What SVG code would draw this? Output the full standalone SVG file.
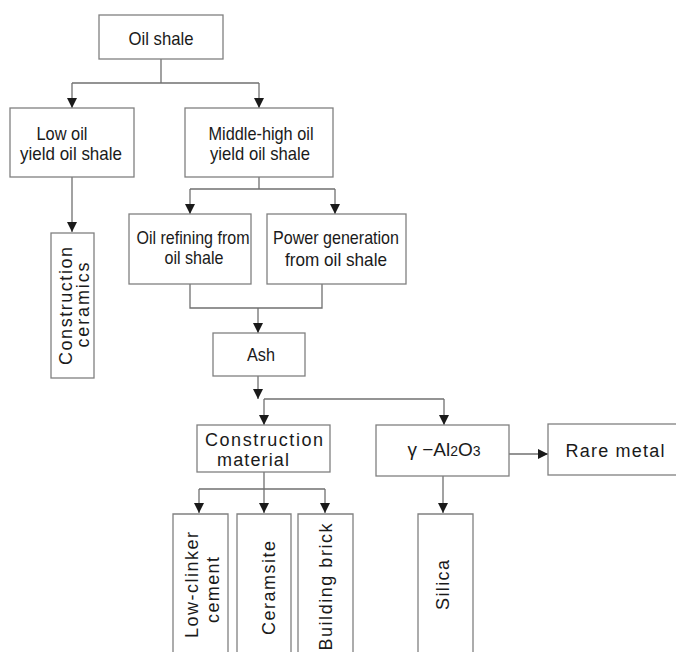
<svg xmlns="http://www.w3.org/2000/svg" width="676" height="652" viewBox="0 0 676 652">
<defs>
<marker id="ah" viewBox="0 0 10 10" refX="10" refY="5" markerWidth="10" markerHeight="10" markerUnits="userSpaceOnUse" orient="auto">
<path d="M0,0 L10,5 L0,10 Z" fill="#1a1a1a"/>
</marker>
<style>
.box{fill:#fff;stroke:#808080;stroke-width:1.3}
.ln{fill:none;stroke:#707070;stroke-width:1.3}
.ar{fill:none;stroke:#707070;stroke-width:1.3;marker-end:url(#ah)}
text{font-family:"Liberation Sans",Arial,sans-serif;font-size:19px;fill:#1a1a1a;text-anchor:middle}
.n{font-size:19px}
.w{font-size:18px}
</style>
</defs>
<rect width="676" height="652" fill="#fff"/>
<g id="connectors">
<path class="ln" d="M161,59 V83 M72,83 H259"/>
<path class="ar" d="M72,83 V108"/>
<path class="ar" d="M259,83 V108"/>
<path class="ar" d="M72,177 V232"/>
<path class="ln" d="M259,177 V189 M190,189 H335"/>
<path class="ar" d="M190,189 V214"/>
<path class="ar" d="M335,189 V214"/>
<path class="ln" d="M190,284 V308 H322 V284"/>
<path class="ar" d="M258,308 V333"/>
<path class="ar" d="M258,376 V399"/>
<path class="ln" d="M264,399 H444"/>
<path class="ar" d="M264,399 V425"/>
<path class="ar" d="M444,399 V425"/>
<path class="ln" d="M264,472 V489 M199,489 H325"/>
<path class="ar" d="M199,489 V513"/>
<path class="ar" d="M264,489 V513"/>
<path class="ar" d="M325,489 V513"/>
<path class="ar" d="M443,476 V513"/>
<path class="ar" d="M509,454 H548"/>
</g>
<g id="oil-shale"><rect class="box" x="99" y="15" width="124" height="44"/><text class="n" x="161" y="45" textLength="65" lengthAdjust="spacingAndGlyphs">Oil shale</text></g>
<g id="low-oil"><rect class="box" x="10" y="108" width="124" height="69"/><text class="n" x="62" y="140" textLength="51" lengthAdjust="spacingAndGlyphs">Low oil</text><text class="n" x="71" y="160" textLength="102" lengthAdjust="spacingAndGlyphs">yield oil shale</text></g>
<g id="middle-high"><rect class="box" x="185" y="108" width="148" height="69"/><text class="n" x="261" y="140" textLength="105" lengthAdjust="spacingAndGlyphs">Middle-high oil</text><text class="n" x="260" y="160" textLength="100" lengthAdjust="spacingAndGlyphs">yield oil shale</text></g>
<g id="construction-ceramics"><rect class="box" x="51" y="233" width="43" height="145"/><text class="w" transform="translate(72,306) rotate(-90)" textLength="118">Construction</text><text class="w" transform="translate(89,305) rotate(-90)" textLength="85">ceramics</text></g>
<g id="oil-refining"><rect class="box" x="129" y="214" width="122" height="70"/><text class="n" x="193" y="244" textLength="113" lengthAdjust="spacingAndGlyphs">Oil refining from</text><text class="n" x="194" y="264" textLength="59" lengthAdjust="spacingAndGlyphs">oil shale</text></g>
<g id="power-generation"><rect class="box" x="267" y="214" width="139" height="70"/><text class="n" x="336" y="244" textLength="126" lengthAdjust="spacingAndGlyphs">Power generation</text><text class="n" x="336" y="266" textLength="102" lengthAdjust="spacingAndGlyphs">from oil shale</text></g>
<g id="ash"><rect class="box" x="213" y="333" width="92" height="43"/><text class="n" x="261" y="361" textLength="28" lengthAdjust="spacingAndGlyphs">Ash</text></g>
<g id="construction-material"><rect class="box" x="197" y="425" width="133" height="47"/><text class="w" x="264" y="446" textLength="118">Construction</text><text class="w" x="253" y="466" textLength="72">material</text></g>
<g id="al2o3"><rect class="box" x="376" y="425" width="133" height="51"/><text class="n" x="444" y="456">γ −Al<tspan font-size="14">2</tspan>O<tspan font-size="14">3</tspan></text></g>
<g id="rare-metal"><rect class="box" x="548" y="424" width="140" height="51"/><text class="w" x="615" y="457" textLength="99">Rare metal</text></g>
<g id="low-clinker"><path class="box" d="M173,660 V514 H228 V660"/><text class="w" transform="translate(198,585) rotate(-90)" textLength="106">Low-clinker</text><text class="w" transform="translate(219,590) rotate(-90)" textLength="66">cement</text></g>
<g id="ceramsite"><path class="box" d="M237,660 V514 H291 V660"/><text class="w" transform="translate(275,588) rotate(-90)" textLength="94">Ceramsite</text></g>
<g id="building-brick"><path class="box" d="M298,660 V514 H353 V660"/><text class="w" transform="translate(332,587) rotate(-90)" textLength="127">Building brick</text></g>
<g id="silica"><path class="box" d="M418,660 V514 H473 V660"/><text class="w" transform="translate(449,585) rotate(-90)" textLength="50">Silica</text></g>
</svg>
